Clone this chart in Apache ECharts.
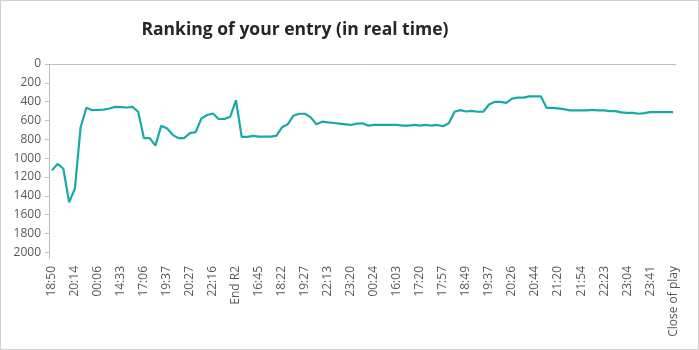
<!DOCTYPE html>
<html><head><meta charset="utf-8">
<script src="https://cdn.jsdelivr.net/npm/echarts@6/dist/echarts.min.js"></script>
<style>html,body{margin:0;padding:0;background:#fff}#c{width:699px;height:350px;box-sizing:border-box;border:1px solid #d0d0d0}</style>
</head><body><div id="c"></div>
<script>
const titleText = 'Ranking of your entry (in real time)';
const tickLabels = ['18:50','20:14','00:06','14:33','17:06','19:37','20:27','22:16','End R2','16:45','18:22','19:27','22:13','23:20','00:24','16:03','17:20','17:57','18:49','19:37','20:26','20:44','21:20','21:54','22:23','23:04','23:41','Close of play'];
const ranking = [
1129,1060,1112,1469,1322,671,465,490,486,484,472,455,458,462,455,507,
787,787,867,657,682,752,787,787,734,724,577,542,525,584,584,560,
385,773,773,763,770,770,770,763,672,640,549,528,528,567,640,612,
619,626,633,640,647,633,630,654,647,647,647,647,647,654,654,647,
654,647,654,647,661,630,507,490,504,497,507,507,430,402,402,413,
367,357,357,343,343,343,465,465,472,479,493,493,493,493,486,493,
493,500,500,514,518,518,528,521,511,511,511,511,511];
// categories: one per data point; only every 4th point has a visible label
const categories = ranking.map((v, i) => (i % 4 === 0 ? tickLabels[i / 4] : ''));

const chart = echarts.init(document.getElementById('c'));
const grey = '#595959';
chart.setOption({
  animation: false,
  title: {
    text: titleText, left: 289, top: 15, textAlign: 'center',
    textStyle: {fontFamily: 'Open Sans', fontWeight: 'bold', fontSize: 17.5, color: '#262626'}
  },
  grid: {left: 48, right: 22, top: 63, bottom: 90},
  xAxis: {
    type: 'category', data: categories, boundaryGap: true,
    axisLine: {lineStyle: {color: '#bfbfbf', width: 1}},
    axisTick: {interval: 0, length: 4, lineStyle: {color: '#bfbfbf'}},
    axisLabel: {interval: 3, rotate: 90, fontFamily: 'Open Sans', fontSize: 12, color: grey, margin: 7}
  },
  yAxis: {
    type: 'value', inverse: true, min: 0, max: 2070, interval: 200,
    splitLine: {show: false},
    axisLine: {show: true, lineStyle: {color: '#bfbfbf'}},
    axisTick: {show: true, length: 4, lineStyle: {color: '#bfbfbf'}},
    axisLabel: {showMaxLabel: false, fontFamily: 'Open Sans', fontSize: 12, color: grey, margin: 8,
      formatter: v => (v % 200 === 0 ? String(v) : '')}
  },
  series: [{
    type: 'line', data: ranking, showSymbol: false, symbol: 'none',
    lineStyle: {color: '#17aaa6', width: 2.2}
  }]
});
</script></body></html>
